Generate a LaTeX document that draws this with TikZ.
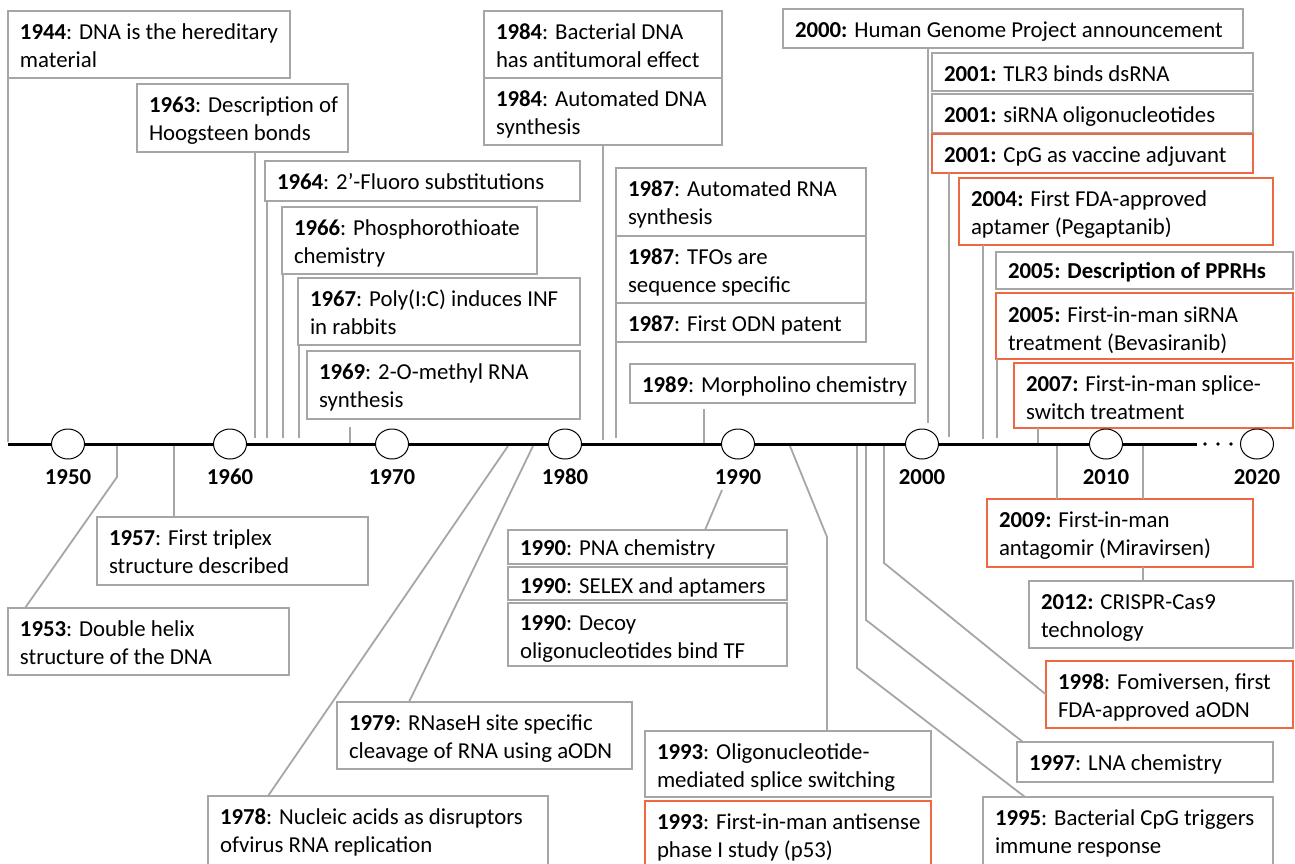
\documentclass[tikz,border=0pt]{standalone}
\usepackage{fontspec}
\setmainfont{Carlito}
\usetikzlibrary{shapes.geometric}
\definecolor{bxgray}{RGB}{166,166,166}
\definecolor{bxorange}{RGB}{240,104,66}
\newcommand\bt[4][28]{\begin{minipage}[t][#3pt][t]{#2pt}\raggedright\leftskip=12pt\rule{0pt}{#1pt}#4\end{minipage}}
\begin{document}
\begin{tikzpicture}[x=1pt,y=-1pt,
  font=\fontsize{22.8}{28}\selectfont,
  box/.style={draw=bxgray, line width=1.8pt, fill=white, inner sep=0pt, outer sep=0pt, anchor=north west},
  obox/.style={box, draw=bxorange},
  conn/.style={draw=bxgray, line width=1.8pt},
  yr/.style={ellipse, draw=black, fill=white, line width=1pt, minimum width=33pt, minimum height=30pt, inner sep=0pt},
  ylab/.style={anchor=base, font=\fontsize{22.8}{28}\selectfont\bfseries, inner sep=0pt}]
\useasboundingbox (0,0) rectangle (1295,863);

% ---- boxes above the timeline
\node[box] (n1944) at (8,11) {\bt{282}{67}{\textbf{1944}: DNA is the hereditary\\material}};
\node[box] (n1963) at (137,84) {\bt{211}{68}{\textbf{1963}: Description of\\Hoogsteen bonds}};
\node[box] (n1964) at (265,161) {\bt{315}{40}{\textbf{1964}: 2’-Fluoro substitutions}};
\node[box] (n1966) at (282,207) {\bt{255}{67}{\textbf{1966}: Phosphorothioate\\chemistry}};
\node[box] (n1967) at (298,278) {\bt{282}{67}{\textbf{1967}: Poly(I:C) induces INF\\in rabbits}};
\node[box] (n1969) at (307,351) {\bt{273}{68}{\textbf{1969}: 2-O-methyl RNA\\synthesis}};
\node[box] (n1984a) at (484,11) {\bt{238}{67}{\textbf{1984}: Bacterial DNA\\has antitumoral effect}};
\node[box] (n1984b) at (484,78) {\bt{238}{67}{\textbf{1984}: Automated DNA\\synthesis}};
\node[box] (n1987a) at (616,168) {\bt{250}{68}{\textbf{1987}: Automated RNA\\synthesis}};
\node[box] (n1987b) at (616,236) {\bt{250}{67}{\textbf{1987}: TFOs are\\sequence specific}};
\node[box] (n1987c) at (616,303) {\bt{250}{39}{\textbf{1987}: First ODN patent}};
\node[box] (n1989) at (630,364) {\bt{285}{39}{\textbf{1989}: Morpholino chemistry}};
\node[box] (n2000) at (783,9) {\bt{460}{39}{\textbf{2000:} Human Genome Project announcement}};
\node[box] (n2001a) at (932,53) {\bt{321}{38}{\textbf{2001:} TLR3 binds dsRNA}};
\node[box] (n2001b) at (932,94) {\bt{321}{39}{\textbf{2001:} siRNA oligonucleotides}};
\node[obox] (n2001c) at (932,134) {\bt{321}{39}{\textbf{2001:} CpG as vaccine adjuvant}};
\node[obox] (n2004) at (959,178) {\bt{314}{67}{\textbf{2004:} First FDA-approved\\aptamer (Pegaptanib)}};
\node[box] (n2005a) at (996,252) {\bt[26]{297}{37}{\textbf{2005: Description of PPRHs}}};
\node[obox] (n2005b) at (996,293) {\bt[29]{297}{66}{\textbf{2005:} First-in-man siRNA\\treatment (Bevasiranib)}};
\node[obox] (n2007) at (1014,363) {\bt{279}{65}{\textbf{2007:} First-in-man splice-\\switch treatment}};

% ---- boxes below the timeline
\node[box] (n1957) at (97,517) {\bt{271}{68}{\textbf{1957}: First triplex\\structure described}};
\node[box] (n1953) at (8,608) {\bt{281}{67}{\textbf{1953}: Double helix\\structure of the DNA}};
\node[box] (n1990a) at (508,530) {\bt[25]{279}{34}{\textbf{1990}: PNA chemistry}};
\node[box] (n1990b) at (508,567) {\bt[26]{279}{33}{\textbf{1990}: SELEX and aptamers}};
\node[box] (n1990c) at (508,603) {\bt[27]{279}{63}{\textbf{1990}: Decoy\\oligonucleotides bind TF}};
\node[box] (n1979) at (337,702) {\bt{295}{67}{\textbf{1979}: RNaseH site specific\\cleavage of RNA using aODN}};
\node[box] (n1978) at (208,796) {\bt{340}{70}{\textbf{1978}: Nucleic acids as disruptors\\ofvirus RNA replication}};
\node[box] (n1993a) at (645,731) {\bt{286}{66}{\textbf{1993}: Oligonucleotide-\\mediated splice switching}};
\node[obox] (n1993b) at (645,801) {\bt{286}{66}{\textbf{1993}: First-in-man antisense\\phase I study (p53)}};
\node[obox] (n2009) at (987,499) {\bt{266}{68}{\textbf{2009:} First-in-man\\antagomir (Miravirsen)}};
\node[box] (n2012) at (1029,581) {\bt{264}{67}{\textbf{2012:} CRISPR-Cas9\\technology}};
\node[obox] (n1998) at (1046,661) {\bt{247}{67}{\textbf{1998}: Fomiversen, first\\FDA-approved aODN}};
\node[box] (n1997) at (1017,742) {\bt{256}{40}{\textbf{1997}: LNA chemistry}};
\node[box] (n1995) at (983,797) {\bt{290}{70}{\textbf{1995}: Bacterial CpG triggers\\immune response}};

% ---- connector ends on the timeline
\coordinate (c1944) at (8,442);
\coordinate (c1963) at (255,438);
\coordinate (c1964) at (267,438);
\coordinate (c1966) at (283,438);
\coordinate (c1967) at (299,438);
\coordinate (c1969) at (350,443);
\coordinate (c1984) at (603,440);
\coordinate (c1987) at (616,438);
\coordinate (c1989) at (704,443);
\coordinate (c2000) at (928,423);
\coordinate (c2001) at (949,437);
\coordinate (c2004) at (983,439);
\coordinate (c2005) at (997,438);
\coordinate (c2007) at (1038,443);
\coordinate (c2009) at (1057,446);
\coordinate (c2012) at (1143,446);
\coordinate (c1953) at (117,446);
\coordinate (c1957) at (174,446);
\coordinate (c1978) at (508,446);
\coordinate (c1979) at (533,446);
\coordinate (c1990) at (722,490);
\coordinate (c1993) at (790,446);
\coordinate (c1995) at (857,446);
\coordinate (c1997) at (866,446);
\coordinate (c1998) at (884,446);

% ---- connectors
\draw[conn] (n1944.south west) -- (c1944);
\draw[conn] ([xshift=118pt]n1963.south west) -- (c1963);
\draw[conn] ([xshift=2pt]n1964.south west) -- (c1964);
\draw[conn] ([xshift=1pt]n1966.south west) -- (c1966);
\draw[conn] ([xshift=1pt]n1967.south west) -- (c1967);
\draw[conn] ([xshift=43pt,yshift=-8pt]n1969.south west) -- (c1969);
\draw[conn] ([xshift=119pt]n1984b.south west) -- (c1984);
\draw[conn] (n1987c.south west) -- (c1987);
\draw[conn] ([xshift=74pt,yshift=-6pt]n1989.south west) -- (c1989);
\draw[conn] ([xshift=145pt]n2000.south west) -- (c2000);
\draw[conn] ([xshift=17pt]n2001c.south west) -- (c2001);
\draw[conn] ([xshift=24pt]n2004.south west) -- (c2004);
\draw[conn] ([xshift=1pt]n2005b.south west) -- (c2005);
\draw[conn] ([xshift=24pt]n2007.south west) -- (c2007);
\draw[conn] (c2009) -- ([xshift=70pt]n2009.north west);
\draw[conn] (c2012) -- ([xshift=156pt]n2009.north west);
\draw[conn] ([xshift=156pt]n2009.south west) -- ([xshift=114pt]n2012.north west);
\draw[conn] (c1953) -- (117,477) -- ([xshift=17pt]n1953.north west);
\draw[conn] (c1957) -- ([xshift=77pt]n1957.north west);
\draw[conn] (c1978) -- ([xshift=60pt]n1978.north west);
\draw[conn] (c1979) -- ([xshift=72pt]n1979.north west);
\draw[conn] (c1990) -- ([xshift=197pt]n1990a.north west);
\draw[conn] (c1993) -- (827,537) -- ([xshift=182pt]n1993a.north west);
\draw[conn] (c1995) -- (857,668) -- ([xshift=42pt]n1995.north west);
\draw[conn] (c1997) -- (866,620) -- ([xshift=6pt]n1997.north west);
\draw[conn] (c1998) -- (884,563) -- (n1998.west);

% ---- timeline
\coordinate (tlA) at (8,444);
\coordinate (tlB) at (1197,444);
\draw[line width=3pt] (tlA) -- (tlB);
\fill (1205,444) circle (1.8pt);
\fill (1218,444) circle (1.8pt);
\fill (1231,444) circle (1.8pt);

\node[yr] (y1950) at (68,444) {};
\node[yr] (y1960) at (230,444) {};
\node[yr] (y1970) at (392,444) {};
\node[yr] (y1980) at (565,444) {};
\node[yr] (y1990) at (738,444) {};
\node[yr] (y2000) at (922,444) {};
\node[yr] (y2010) at (1106,444) {};
\node[yr] (y2020) at (1257,444) {};

\node[ylab] (l1950) at (68,484) {1950};
\node[ylab] (l1960) at (230,484) {1960};
\node[ylab] (l1970) at (392,484) {1970};
\node[ylab] (l1980) at (565,484) {1980};
\node[ylab] (l1990) at (738,484) {1990};
\node[ylab] (l2000) at (922,484) {2000};
\node[ylab] (l2010) at (1106,484) {2010};
\node[ylab] (l2020) at (1257,484) {2020};
\end{tikzpicture}
\end{document}
